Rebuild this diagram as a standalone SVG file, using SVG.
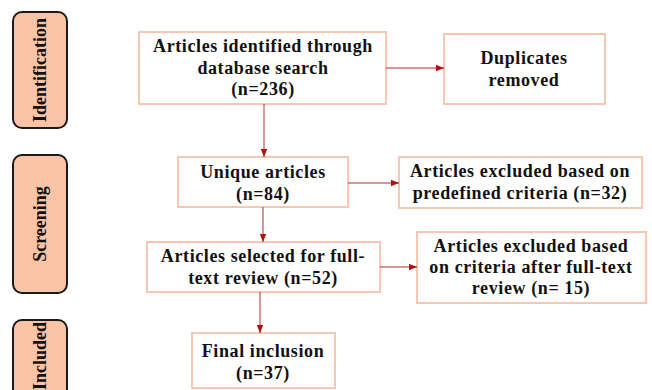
<svg xmlns="http://www.w3.org/2000/svg" width="652" height="390" viewBox="0 0 652 390">
<style>
.side{fill:#fbc4a6;stroke:#1a1a1a;stroke-width:2}
.box{fill:#ffffff;stroke:#f6c8b3;stroke-width:2}
.t{font-family:'Liberation Serif','DejaVu Serif','Times New Roman',serif;font-weight:700;font-size:18px;letter-spacing:0.6px;fill:#111;text-anchor:middle}
.st{font-family:'Liberation Serif','DejaVu Serif','Times New Roman',serif;font-weight:700;font-size:18px;fill:#111;text-anchor:middle}
.c{stroke:#b03030;stroke-width:1;fill:none;marker-end:url(#ah)}
</style>
<defs>
<marker id="ah" viewBox="0 0 10 10" refX="10" refY="5" markerWidth="8" markerHeight="8" markerUnits="userSpaceOnUse" orient="auto">
<path d="M0,1 L10,5 L0,9 z" fill="#b01010"/>
</marker>
</defs>
<rect width="652" height="390" fill="#ffffff"/>
<g id="stage-identification">
<rect class="side" x="13" y="12" width="54" height="116" rx="9"/>
<text class="st" transform="translate(46,70) rotate(-90)">Identification</text>
</g>
<g id="stage-screening">
<rect class="side" x="13" y="155" width="54" height="138" rx="9"/>
<text class="st" transform="translate(46,224) rotate(-90)">Screening</text>
</g>
<g id="stage-included">
<rect class="side" x="13" y="320" width="54" height="90" rx="9"/>
<text class="st" transform="translate(46,356) rotate(-90)">Included</text>
</g>
<g id="identified">
<rect class="box" x="139" y="32" width="247" height="72"/>
<text class="t" x="263" y="52">Articles identified through</text>
<text class="t" x="263" y="74">database search</text>
<text class="t" x="263" y="95">(n=236)</text>
</g>
<g id="duplicates">
<rect class="box" x="444" y="34" width="161" height="70"/>
<text class="t" x="524" y="64">Duplicates</text>
<text class="t" x="524" y="86">removed</text>
</g>
<g id="unique">
<rect class="box" x="178" y="157" width="170" height="50"/>
<text class="t" x="263" y="178">Unique articles</text>
<text class="t" x="263" y="200">(n=84)</text>
</g>
<g id="excluded-predefined">
<rect class="box" x="399" y="157" width="243" height="51"/>
<text class="t" x="520" y="177">Articles excluded based on</text>
<text class="t" x="520" y="199">predefined criteria (n=32)</text>
</g>
<g id="selected">
<rect class="box" x="147" y="242" width="233" height="50"/>
<text class="t" x="263" y="262">Articles selected for full-</text>
<text class="t" x="263" y="284">text review (n=52)</text>
</g>
<g id="excluded-fulltext">
<rect class="box" x="417" y="232" width="229" height="71"/>
<text class="t" x="531" y="252">Articles excluded based</text>
<text class="t" x="531" y="273">on criteria after full-text</text>
<text class="t" x="531" y="294">review (n= 15)</text>
</g>
<g id="final">
<rect class="box" x="192" y="333" width="143" height="55"/>
<text class="t" x="263" y="357">Final inclusion</text>
<text class="t" x="263" y="379">(n=37)</text>
</g>
<g id="connectors">
<line class="c" x1="386" y1="68" x2="444" y2="68"/>
<line class="c" x1="264" y1="104" x2="264" y2="157"/>
<line class="c" x1="348" y1="183" x2="399" y2="183"/>
<line class="c" x1="263" y1="207" x2="263" y2="242"/>
<line class="c" x1="380" y1="267" x2="417" y2="267"/>
<line class="c" x1="260" y1="292" x2="260" y2="333"/>
</g>
</svg>
